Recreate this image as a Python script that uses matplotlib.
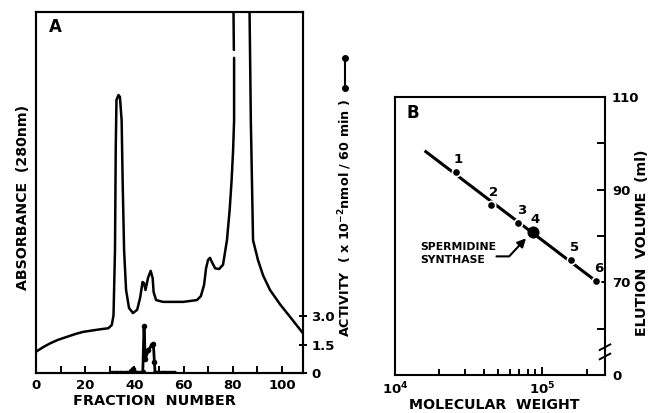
import numpy as np
import matplotlib
matplotlib.use("Agg")
import matplotlib.pyplot as plt
from matplotlib.lines import Line2D

plt.rcParams["font.family"] = ["DejaVu Sans"]
plt.rcParams["font.weight"] = "bold"
plt.rcParams["mathtext.default"] = "bf"

# Panel A: absorbance trace (arbitrary units, 0-1 axis) vs fraction number
abs_frac = [0, 3, 6, 9, 12.5, 16, 19.2, 26, 29.4, 30.8, 31.5, 32.1, 32.4, 32.7, 33.5, 34.1,
            34.8, 35.2, 35.8, 36.6, 37.8, 39.4, 41.1, 42.3, 43.3, 43.9, 44.5, 45.5, 46.6,
            47.4, 47.8, 48.8, 51.6, 59.8, 65.4, 67, 68.3, 69.1, 69.9, 70.7, 71.5,
            72.8, 74.4, 76.0, 77.6, 78.7, 79.5, 80.1, 80.5, 80.5, np.nan, 80.4, 80.2,
            83.4, 86.7, 87.3, 88.2, 90.2, 92.3, 95.1, 99.2, 103.3, 108.5]
abs_val = [0.059, 0.072, 0.083, 0.092, 0.10, 0.108, 0.114, 0.121, 0.124, 0.133, 0.16, 0.34,
           0.62, 0.756, 0.77, 0.765, 0.70, 0.535, 0.34, 0.23, 0.18, 0.166, 0.175, 0.208,
           0.252, 0.249, 0.23, 0.263, 0.283, 0.263, 0.224, 0.202, 0.197, 0.197, 0.202,
           0.213, 0.244, 0.29, 0.313, 0.319, 0.307, 0.29, 0.288, 0.30, 0.368, 0.452, 0.535,
           0.618, 0.70, 0.873, np.nan, 0.895, 1.05, 1.3, 1.05, 0.70, 0.368, 0.313, 0.27,
           0.23, 0.19, 0.155, 0.11]

# Panel A: enzyme activity (x 10^-2 nmol / 60 min)
act_frac = [31, 32, 33, 34, 35, 36, 37, 38, 38.8, 39.4, 40, 41, 42, 43, 43.4, 43.9, 44.4,
            45.7, 47.0, 47.7, 48.1, 48.4, 49, 50, 51, 52, 53, 54, 55, 56]
act_val = [0, 0, 0, 0, 0, 0, 0, 0, 0.08, 0.2, 0.05, 0, 0, 0, 0.05, 2.5, 0.74,
           1.2, 1.47, 1.53, 0.6, 0, 0, 0, 0, 0, 0, 0, 0, 0]

# Panel B: calibration standards
std_mw = [25800, 45000, 69000, 86000, 158000, 231000]
std_vol = [93.9, 86.7, 82.9, 80.8, 74.8, 70.3]
std_labels = ["1", "2", "3", "4", "5", "6"]
fit_mw = [16200, 231000]
fit_vol = [98.2, 70.3]

W, H = 660, 413
fig = plt.figure(figsize=(W / 100, H / 100), dpi=100)


def box(l, t, r, b):
    return [l / W, 1 - b / H, (r - l) / W, (b - t) / H]


# ---------- panel A ----------
ax = fig.add_axes(box(36, 12, 303, 373))
ax.plot(abs_frac, abs_val, color="black", lw=1.8, solid_capstyle="round")
ax.set_xlim(0, 108.5)
ax.set_ylim(0, 1)
ax.set_yticks([])
ax.set_xticks(np.arange(0, 101, 10))
ax.set_xticklabels([str(v) if v % 20 == 0 else "" for v in range(0, 101, 10)])
ax.tick_params(axis="x", direction="in", length=5, width=1.4, labelsize=9.5, pad=4)
for s in ax.spines.values():
    s.set_linewidth(1.5)
ax.text(0.071, 0.958, "A", transform=ax.transAxes, fontsize=12, fontweight="bold",
        ha="center", va="center")

ax2 = ax.twinx()
ax2.plot(act_frac, act_val, color="black", lw=2.0, marker="o", ms=3)
ax2.set_ylim(0, 19.0)
ax2.set_yticks([0, 1.5, 3.0])
ax2.set_yticklabels(["0", "1.5", "3.0"])
ax2.tick_params(axis="y", direction="inout", length=6, width=1.4, labelsize=9.5, pad=3)
for s in ax2.spines.values():
    s.set_linewidth(1.5)

fig.text(23.5 / W, 1 - 197 / H, "ABSORBANCE  (280nm)", rotation=90, ha="center",
         va="center", fontsize=10.2, fontweight="bold")
fig.text(154 / W, 1 - 401 / H, "FRACTION  NUMBER", ha="center", va="center",
         fontsize=10.4, fontweight="bold")
fig.text(345 / W, 1 - 218 / H, r"ACTIVITY  ( x 10$^{-2}$nmol / 60 min )", rotation=90,
         ha="center", va="center", fontsize=9.2, fontweight="bold")
fig.add_artist(Line2D([345 / W, 345 / W], [1 - 58 / H, 1 - 88 / H], color="black",
                      lw=1.5, marker="o", ms=4))

# ---------- panel B ----------
bx = fig.add_axes(box(395, 97, 605, 375))
bx.plot(fit_mw, fit_vol, color="black", lw=2.2)
bx.plot(std_mw, std_vol, "o", color="black", ms=6, mec="white", mew=1.2)
bx.plot(std_mw[3], std_vol[3], "o", color="black", ms=7.5, mec="black", mew=1.2)
for m, v, lab in zip(std_mw, std_vol, std_labels):
    bx.annotate(lab, (m, v), xytext=(2, 9), textcoords="offset points", ha="center",
                va="center", fontsize=9.5, fontweight="bold")
bx.set_xscale("log")
bx.set_xlim(1e4, 2.67e5)
bx.set_ylim(50, 110)
bx.yaxis.tick_right()
bx.set_yticks([50, 60, 70, 80, 90, 100, 110])
bx.set_yticklabels(["0", "", "70", "", "90", "", "110"])
bx.set_xticks([1e4, 1e5])
bx.set_xticklabels([r"10$^4$", r"10$^5$"])
bx.tick_params(axis="both", which="both", direction="in", width=1.4, labelsize=9.5)
bx.tick_params(axis="both", which="major", length=6)
bx.tick_params(axis="x", which="minor", length=4)
bx.tick_params(axis="x", pad=4)
bx.tick_params(axis="y", pad=5)
for s in bx.spines.values():
    s.set_linewidth(1.5)
bx.text(0.086, 0.942, "B", transform=bx.transAxes, fontsize=12, fontweight="bold",
        ha="center", va="center")

bx.text(14750, 76.2, "SPERMIDINE\nSYNTHASE", fontsize=7.8, fontweight="bold",
        ha="left", va="center", linespacing=1.3)
bx.annotate("", xy=(77600, 79.5), xytext=(48900, 75.6),
            arrowprops=dict(arrowstyle="-|>,head_length=0.5,head_width=0.25", color="black",
                            lw=1.5, shrinkA=0, shrinkB=0,
                            connectionstyle="angle,angleA=0,angleB=47,rad=0"))

# axis break mark on the right spine
brk = bx.get_yaxis_transform()
for dy in (-1.0, 1.0):
    bx.plot([0.975, 1.025], [55.0 + dy - 0.6, 55.0 + dy + 0.6], transform=brk,
            color="black", lw=1.4, clip_on=False)

fig.text(494 / W, 1 - 405 / H, "MOLECULAR  WEIGHT", ha="center", va="center",
         fontsize=10.2, fontweight="bold")
fig.text(642 / W, 1 - 243 / H, "ELUTION  VOLUME  (ml)", rotation=90, ha="center",
         va="center", fontsize=10.2, fontweight="bold")

fig.savefig("out.png", dpi=100)
